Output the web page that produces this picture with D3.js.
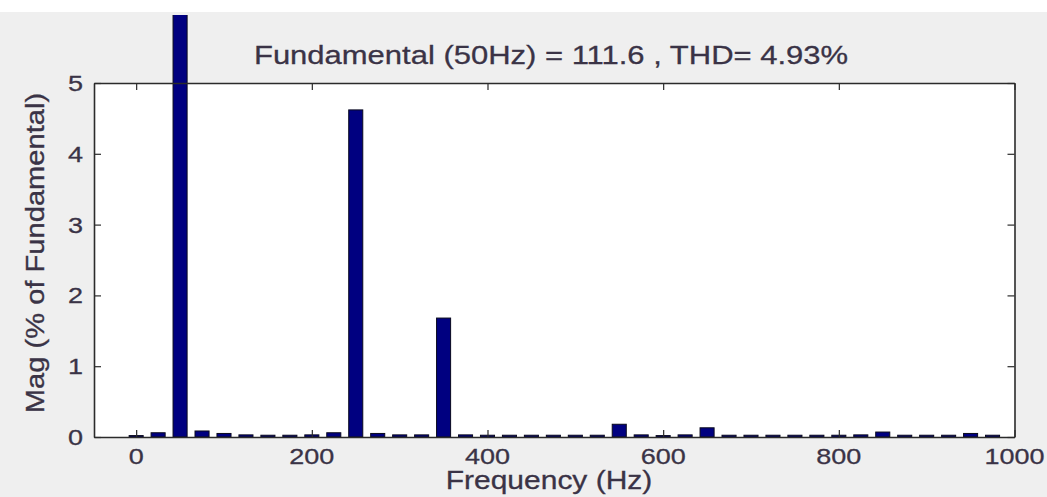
<!DOCTYPE html>
<html>
<head>
<meta charset="utf-8">
<script src="https://cdn.jsdelivr.net/npm/d3@7"></script>
<style>
  html, body { margin: 0; padding: 0; background: #ffffff; }
  svg { display: block; }
  text { font-family: "Liberation Sans", Arial, Helvetica, sans-serif; fill: #3a3346; stroke: #3a3346; stroke-width: 0.35px; }
</style>
</head>
<body>
<svg id="chart" width="1047" height="497"></svg>
<script>
// Harmonic spectrum: frequency bins (Hz) and magnitude (% of fundamental)
const frequencies = [0, 25, 50, 75, 100, 125, 150, 175, 200, 225,
                     250, 275, 300, 325, 350, 375, 400, 425, 450, 475,
                     500, 525, 550, 575, 600, 625, 650, 675, 700, 725,
                     750, 775, 800, 825, 850, 875, 900, 925, 950, 975];
const magnitudes  = [0.02, 0.06, 100, 0.085, 0.05, 0.03, 0.025, 0.025, 0.03, 0.06,
                     4.62, 0.05, 0.03, 0.03, 1.68, 0.03, 0.025, 0.025, 0.025, 0.025,
                     0.025, 0.025, 0.18, 0.03, 0.02, 0.03, 0.13, 0.025, 0.025, 0.025,
                     0.025, 0.025, 0.025, 0.03, 0.07, 0.025, 0.025, 0.025, 0.05, 0.025];
const xTicks = [0, 200, 400, 600, 800, 1000];
const yTicks = [0, 1, 2, 3, 4, 5];
const xDomain = [-48, 1000];
const yDomain = [0, 5];
const binWidthHz = 16;

const titleText = "Fundamental (50Hz) = 111.6 , THD= 4.93%";
const xLabelText = "Frequency (Hz)";
const yLabelText = "Mag (% of Fundamental)";

const svg = d3.select("#chart");
const W = 1047, H = 497;
const plot = { left: 94, right: 1014.5, top: 83, bottom: 437 };
const tickLen = 7;
const squash = 0.84;   // vertical squeeze applied to horizontal text

// figure background
svg.append("rect").attr("x", 0).attr("y", 0).attr("width", W).attr("height", H).attr("fill", "#efefef");
svg.append("rect").attr("x", 0).attr("y", 0).attr("width", W).attr("height", 12).attr("fill", "#ffffff");

const x = d3.scaleLinear().domain(xDomain).range([plot.left, plot.right]);
const y = d3.scaleLinear().domain(yDomain).range([plot.bottom, plot.top]);

// axes background
svg.append("rect")
  .attr("x", plot.left).attr("y", plot.top)
  .attr("width", plot.right - plot.left).attr("height", plot.bottom - plot.top)
  .attr("fill", "#ffffff");

// bars may rise above the axes box (fundamental is 100 %)
svg.append("defs").append("clipPath").attr("id", "barClip")
  .append("rect").attr("x", 0).attr("y", 15).attr("width", W).attr("height", plot.bottom - 15);

svg.append("g").attr("clip-path", "url(#barClip)")
  .selectAll("rect")
  .data(frequencies.map((f, i) => ({ f, m: magnitudes[i] })))
  .join("rect")
  .attr("x", d => x(d.f - binWidthHz / 2))
  .attr("width", d => x(d.f + binWidthHz / 2) - x(d.f - binWidthHz / 2))
  .attr("y", d => y(d.m))
  .attr("height", d => y(0) - y(d.m))
  .attr("fill", "#000080")
  .attr("stroke", "#0a0a1e")
  .attr("stroke-width", 1);

// axes with inward ticks on all four sides
const axisColor = "#2b2b2b";
const bottomAxis = d3.axisBottom(x).tickValues(xTicks).tickSizeInner(-tickLen).tickSizeOuter(0).tickFormat("");
const topAxis = d3.axisTop(x).tickValues(xTicks).tickSizeInner(-tickLen).tickSizeOuter(0).tickFormat("");
const leftAxis = d3.axisLeft(y).tickValues(yTicks).tickSizeInner(-tickLen).tickSizeOuter(0).tickFormat("");
const rightAxis = d3.axisRight(y).tickValues(yTicks).tickSizeInner(-tickLen).tickSizeOuter(0).tickFormat("");

function styleAxis(g) {
  g.selectAll("path.domain").attr("stroke", axisColor).attr("stroke-width", 1.6);
  g.selectAll(".tick line").attr("stroke", axisColor).attr("stroke-width", 1.2);
}
svg.append("g").attr("transform", `translate(0,${plot.bottom})`).call(bottomAxis).call(styleAxis);
svg.append("g").attr("transform", `translate(0,${plot.top})`).call(topAxis).call(styleAxis);
svg.append("g").attr("transform", `translate(${plot.left},0)`).call(leftAxis).call(styleAxis);
svg.append("g").attr("transform", `translate(${plot.right},0)`).call(rightAxis).call(styleAxis);

// tick labels
svg.append("g").selectAll("text").data(xTicks).join("text")
  .attr("transform", d => `translate(${x(d)},${plot.bottom + 27}) scale(1,${squash})`)
  .attr("text-anchor", "middle")
  .style("font-size", "27px")
  .text(d => d);

svg.append("g").selectAll("text").data(yTicks).join("text")
  .attr("transform", d => `translate(${plot.left - 11},${y(d) + 8}) scale(1,${squash})`)
  .attr("text-anchor", "end")
  .style("font-size", "27px")
  .text(d => d);

// title and axis labels
svg.append("text")
  .attr("transform", `translate(551,64) scale(1,${squash})`)
  .attr("text-anchor", "middle")
  .style("font-size", "31px")
  .text(titleText);

svg.append("text")
  .attr("transform", `translate(549,489) scale(1,${squash})`)
  .attr("text-anchor", "middle")
  .style("font-size", "30px")
  .text(xLabelText);

svg.append("text")
  .attr("transform", `translate(44,253) rotate(-90) scale(1.12,1)`)
  .attr("text-anchor", "middle")
  .style("font-size", "26px")
  .text(yLabelText);
</script>
</body>
</html>
